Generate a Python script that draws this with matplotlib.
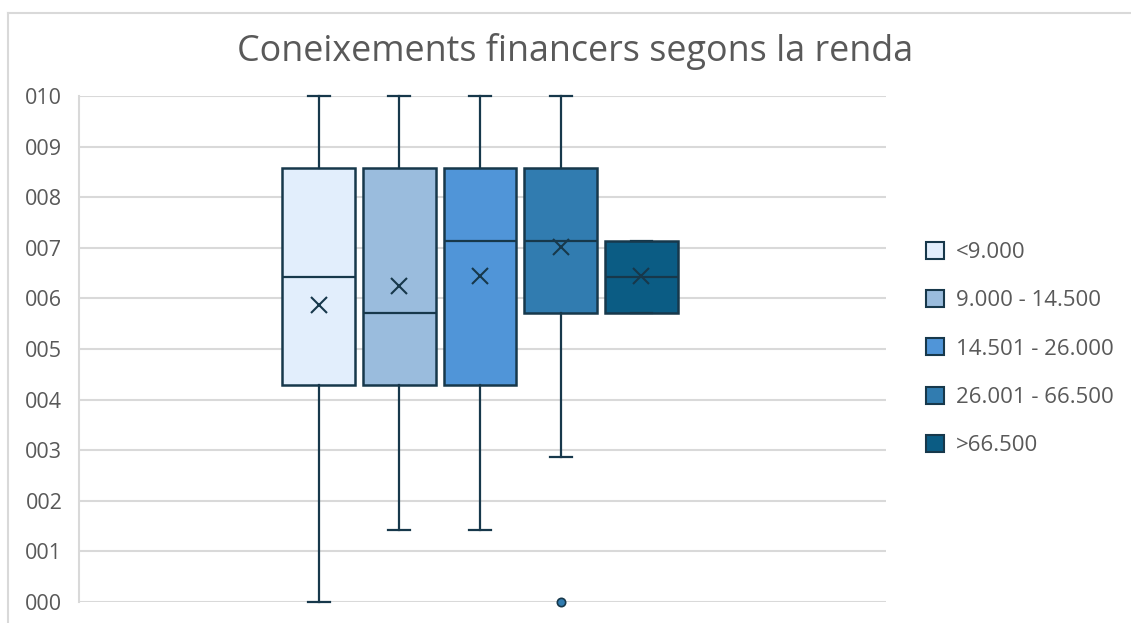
import numpy as np
import matplotlib
matplotlib.use("Agg")
import matplotlib.pyplot as plt
from matplotlib.patches import Patch
from matplotlib.lines import Line2D

plt.rcParams['font.family'] = ['Open Sans', 'DejaVu Sans']

title = "Coneixements financers segons la renda"
categories = ["<9.000", "9.000 - 14.500", "14.501 - 26.000", "26.001 - 66.500", ">66.500"]
whislo = [0.0, 1.43, 1.43, 2.86, 5.71]
q1 = [4.29, 4.29, 4.29, 5.71, 5.71]
med = [6.43, 5.71, 7.14, 7.14, 6.43]
q3 = [8.57, 8.57, 8.57, 8.57, 7.14]
whishi = [10.0, 10.0, 10.0, 10.0, 7.14]
means = [5.87, 6.25, 6.44, 7.02, 6.45]
fliers = [[], [], [], [0.0], []]
yticks = [0, 1, 2, 3, 4, 5, 6, 7, 8, 9, 10]
ytick_labels = ["000", "001", "002", "003", "004", "005", "006", "007", "008", "009", "010"]

colors = ["#E2EEFC", "#9ABCDD", "#5095D8", "#317CB0", "#0B5C84"]
edge = "#17384B"
textc = "#595959"
gridc = "#D9D9D9"

fig = plt.figure(figsize=(11.31, 6.23), dpi=100)
ax = fig.add_axes([79/1131, 1-602/623, (886-79)/1131, (602-96)/623])

stats = []
for i in range(len(categories)):
    stats.append(dict(whislo=whislo[i], q1=q1[i], med=med[i], q3=q3[i],
                      whishi=whishi[i], mean=means[i], fliers=fliers[i], label=categories[i]))

positions = 0.497 + (np.arange(len(categories)) - 2) * 0.1
bp = ax.bxp(stats, positions=positions, widths=0.09, capwidths=0.027,
            patch_artist=True, showmeans=True, showfliers=True,
            boxprops=dict(edgecolor=edge, linewidth=1.8),
            medianprops=dict(color=edge, linewidth=1.6),
            whiskerprops=dict(color=edge, linewidth=1.6),
            capprops=dict(color=edge, linewidth=1.6),
            meanprops=dict(marker='x', markersize=12, markeredgecolor=edge, markeredgewidth=1.5),
            flierprops=dict(marker='o', markersize=6, markeredgecolor=edge, markeredgewidth=1.2))
for patch, c in zip(bp['boxes'], colors):
    patch.set_facecolor(c)
for fl, c in zip(bp['fliers'], colors):
    fl.set_markerfacecolor(c)
    fl.set_clip_on(False)
    fl.set_zorder(5)
for art in bp['caps'] + bp['whiskers']:
    art.set_clip_on(False)

ax.set_xlim(0, 1)
ax.set_ylim(0, 10)
ax.set_yticks(yticks)
ax.set_yticklabels(ytick_labels, color=textc, fontsize=15.5)
ax.set_xticks([])
ax.tick_params(axis='y', length=0, pad=12)
ax.yaxis.grid(True, color=gridc, linewidth=1.5)
ax.set_axisbelow(True)
for s in ['top', 'right', 'bottom']:
    ax.spines[s].set_visible(False)
ax.spines['left'].set_color(gridc)
ax.spines['left'].set_linewidth(1.5)

fig.text(575/1131, 1-52/623, title, ha='center', va='center', fontsize=25.8, color=textc)

handles = [Patch(facecolor=c, edgecolor=edge, linewidth=1.5) for c in colors]
leg = fig.legend(handles, categories, loc='center left', bbox_to_anchor=(906/1131, 1-349/623),
                 frameon=False, fontsize=16, labelcolor=textc, handlelength=0.8, handleheight=0.8,
                 handletextpad=0.55, labelspacing=1.22)

# figure border (only top and left visible in the crop)
fig.add_artist(Line2D([8/1131, 1], [1-13/623, 1-13/623], color=gridc, linewidth=1.5, transform=fig.transFigure))
fig.add_artist(Line2D([8/1131, 8/1131], [0, 1-13/623], color=gridc, linewidth=1.5, transform=fig.transFigure))

fig.savefig("out.png", dpi=100)
